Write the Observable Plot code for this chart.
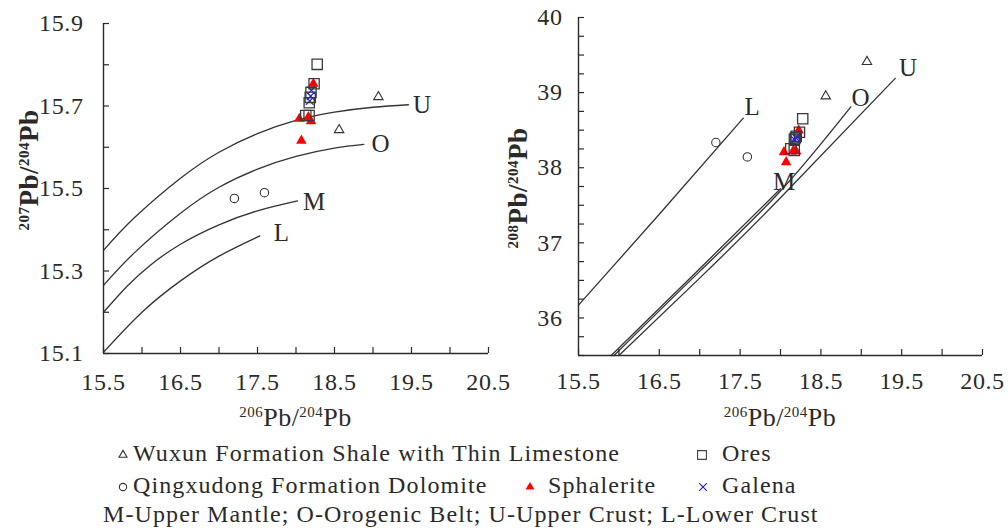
<!DOCTYPE html>
<html><head><meta charset="utf-8">
<script src="https://cdn.jsdelivr.net/npm/d3@7"></script>
<script src="https://cdn.jsdelivr.net/npm/@observablehq/plot@0.6"></script>
<style>
html,body{margin:0;padding:0;background:#fff;}
#wrap{position:relative;width:1008px;height:528px;overflow:hidden;background:#fff;font-family:"Liberation Serif","Times New Roman",Times,"DejaVu Serif",serif;}
#left,#right,#legend{position:absolute;}
#left{left:0;top:0;} #right{left:504px;top:0;} #legend{left:0;top:400px;}
svg text{font-family:"Liberation Serif","Times New Roman",Times,"DejaVu Serif",serif !important;}
</style></head><body>
<div id="wrap"><div id="left"></div><div id="right"></div><div id="legend"></div></div>
<script>
// ---------- axis ticks ----------
const xTicks = [15.5,16,16.5,17,17.5,18,18.5,19,19.5,20,20.5];
const xTickLabels = [15.5,16.5,17.5,18.5,19.5,20.5];
const y7Ticks = [15.1,15.2,15.3,15.4,15.5,15.6,15.7,15.8,15.9];
const y7TickLabels = [15.1,15.3,15.5,15.7,15.9];
const y8Ticks = [35.5,35.75,36,36.25,36.5,36.75,37,37.25,37.5,37.75,38,38.25,38.5,38.75,39,39.25,39.5,39.75,40];
const y8TickLabels = [36,37,38,39,40];

// ---------- evolution curves (206Pb/204Pb, 207Pb/204Pb) ----------
const curveU7 = [[15.5,15.350],[15.9,15.429],[16.5,15.525],[17.0,15.588],[17.5,15.633],[18.0,15.665],[18.5,15.685],[19.0,15.697],[19.46,15.703]];
const curveO7 = [[15.5,15.265],[15.9,15.344],[16.5,15.440],[17.0,15.503],[17.5,15.547],[18.0,15.578],[18.5,15.598],[18.88,15.607]];
const curveM7 = [[15.5,15.200],[15.8,15.262],[16.1,15.313],[16.5,15.365],[17.0,15.412],[17.5,15.446],[18.02,15.470]];
const curveL7 = [[15.5,15.103],[16.0,15.200],[16.5,15.276],[17.0,15.336],[17.53,15.385]];
// ---------- evolution curves (206Pb/204Pb, 208Pb/204Pb) ----------
const curveU8 = [[16.0,35.5],[17.0,36.53],[18.0,37.6],[19.42,39.19]];
const curveO8 = [[15.94,35.5],[17.0,36.62],[18.0,37.69],[18.87,38.81]];
const curveM8 = [[15.905,35.5],[17.0,36.655],[18.0,37.72]];
const curveL8 = [[15.5,36.17],[16.5,37.38],[17.54,38.66]];

// ---------- samples ----------
const shale206 = [19.07, 18.56];
const shale207 = [15.722, 15.642];
const shale208 = [39.41, 38.953];
const dolo206 = [17.20, 17.59];
const dolo207 = [15.476, 15.490];
const dolo208 = [38.336, 38.144];
const ore206 = [18.275, 18.235, 18.195, 18.185, 18.172, 18.127, 18.17];
const ore207 = [15.801, 15.754, 15.733, 15.721, 15.708, 15.677, 15.677];
const ore208 = [38.652, 38.473, 38.42, 38.40, 38.38, 38.252, 38.23];
const sph206 = [18.225, 18.043, 18.16, 18.195, 18.07];
const sph207 = [15.754, 15.669, 15.673, 15.663, 15.616];
const sph208 = [38.496, 38.207, 38.23, 38.215, 38.074];
const gal206 = [18.20, 18.19, 18.178];
const gal207 = [15.738, 15.724, 15.712];
const gal208 = [38.42, 38.40, 38.37];

// ---------- legend text ----------
const legendLabels = ["Wuxun Formation Shale with Thin Limestone", "Ores", "Qingxudong Formation Dolomite", "Sphalerite", "Galena"];
const legendNote = "M-Upper Mantle; O-Orogenic Belt; U-Upper Crust; L-Lower Crust";

const serif = '"Liberation Serif", "Times New Roman", Times, "DejaVu Serif", serif';
const INK = "#2a2a2a";
const W = 504, H = 400;
const pts = (xs, ys) => xs.map((x, i) => ({x, y: ys[i]}));
const curveRows = (list) => list.flatMap(([name, p]) => p.map(([x, y]) => ({name, x, y})));
const endOf = (name, p) => [{name, x: p[p.length-1][0], y: p[p.length-1][1]}];

function panel(cfg) {
  const fw = W - cfg.ml - cfg.mr, fh = H - cfg.mt - cfg.mb;
  const curves = [["U", cfg.U], ["O", cfg.O], ["M", cfg.M], ["L", cfg.L]];
  const marks = [
    Plot.line(curveRows(curves), {x: "x", y: "y", z: "name", curve: "natural", stroke: "#333", strokeWidth: 1.3}),
    Plot.ruleX([xTicks[0]], {stroke: INK, strokeWidth: 1.4}),
    Plot.ruleY([cfg.yTicks[0]], {stroke: INK, strokeWidth: 1.4}),
    Plot.tickY(cfg.yTicks, {y: d => d, insetRight: fw - 6, stroke: INK, strokeWidth: 1.2}),
    Plot.tickX(xTicks, {x: d => d, insetTop: fh - 6, stroke: INK, strokeWidth: 1.2}),
    Plot.axisX(xTickLabels, {tickSize: 0, tickPadding: cfg.xpad, tickFormat: d => d.toFixed(1), label: null, fill: INK}),
    Plot.axisY(cfg.yTickLabels, {tickSize: 0, tickPadding: cfg.ypad, tickFormat: cfg.yfmt, label: null, fill: INK}),
  ];
  for (const [name, p] of curves) {
    const o = cfg.lab[name];
    marks.push(Plot.text(endOf(name, p), {x: "x", y: "y", text: "name", dx: o[0], dy: o[1], fontSize: 25, fill: INK}));
  }
  marks.push(
    Plot.dot(pts(shale206, cfg.shale), {x: "x", y: "y", symbol: "triangle", r: 3.5, stroke: "#333", strokeWidth: 1.1, fill: "none"}),
    Plot.dot(pts(dolo206, cfg.dolo), {x: "x", y: "y", symbol: "circle", r: 4.2, stroke: "#333", strokeWidth: 1.1, fill: "none"}),
    Plot.dot(pts(sph206, cfg.sph), {x: "x", y: "y", symbol: "triangle", r: 3.9, fill: "#ff0000", stroke: "none"}),
    Plot.dot(pts(gal206, cfg.gal), {x: "x", y: "y", symbol: "times", r: 3.6, stroke: "#2020e0", strokeWidth: 1.2}),
    Plot.dot(pts(ore206, cfg.ore), {x: "x", y: "y", symbol: "square", r: 5.8, stroke: "#3a3a3a", strokeWidth: 1.3, fill: "none"})
  );
  const svg = Plot.plot({
    width: W, height: H,
    marginLeft: cfg.ml, marginRight: cfg.mr, marginTop: cfg.mt, marginBottom: cfg.mb,
    x: {domain: [xTicks[0], xTicks[xTicks.length-1]]},
    y: {domain: [cfg.yTicks[0], cfg.yTicks[cfg.yTicks.length-1]]},
    style: {fontFamily: serif, fontSize: "24px", letterSpacing: "0.6px", color: INK, background: "none", overflow: "visible"},
    marks
  });
  const s = d3.select(svg);
  const title = (tx, ty, rot, sup1, sup2, size, supSize, weight) => {
    const t = s.append("text")
      .attr("transform", `translate(${tx},${ty})` + (rot ? " rotate(-90)" : ""))
      .attr("text-anchor", "middle").attr("fill", INK)
      .style("font-size", size + "px").style("font-weight", weight).style("letter-spacing", "0.5px");
    t.append("tspan").style("font-size", supSize + "px").attr("dy", -9).text(sup1);
    t.append("tspan").attr("dy", 9).text("Pb/");
    t.append("tspan").style("font-size", supSize + "px").attr("dy", -9).text(sup2);
    t.append("tspan").attr("dy", 9).text("Pb");
  };
  title(cfg.ml + fw / 2, 426, false, "206", "204", 26, 15, "normal");
  title(cfg.ytx, cfg.yty, true, cfg.ysup, "204", 27, 15, "bold");
  return svg;
}

document.getElementById("left").append(panel({
  ml: 103, mr: 16, mt: 23, mb: 47, xpad: 19, ypad: 20,
  yTicks: y7Ticks, yTickLabels: y7TickLabels, yfmt: d => d.toFixed(1),
  U: curveU7, O: curveO7, M: curveM7, L: curveL7,
  lab: {U: [14, 0], O: [17, 0], M: [17, 1], L: [22, -3]},
  shale: shale207, dolo: dolo207, ore: ore207, sph: sph207, gal: gal207,
  ytx: 38, yty: 170, ysup: "207"
}));
document.getElementById("right").append(panel({
  ml: 74, mr: 26, mt: 17, mb: 45, xpad: 16, ypad: 16,
  yTicks: y8Ticks, yTickLabels: y8TickLabels, yfmt: d => String(d),
  U: curveU8, O: curveO8, M: curveM8, L: curveL8,
  lab: {U: [13, -10], O: [10, -9], M: [4, -7], L: [9, -11]},
  shale: shale208, dolo: dolo208, ore: ore208, sph: sph208, gal: gal208,
  ytx: 23, yty: 188, ysup: "208"
}));

// ---------- legend ----------
const lg = d3.select("#legend").append("svg").attr("width", 1008).attr("height", 128)
  .style("font-family", serif).style("font-size", "24px").style("letter-spacing", "1.1px");
const sym = (type, size) => d3.symbol().type(type).size(size)();
const items = [
  {cx: 123, cy: 53, shape: sym(d3.symbolTriangle, 28), fill: "none", stroke: "#333", tx: 133, label: legendLabels[0]},
  {cx: 702, cy: 53, shape: sym(d3.symbolSquare, 78), fill: "none", stroke: "#444", tx: 722, label: legendLabels[1]},
  {cx: 123, cy: 85, shape: sym(d3.symbolCircle, 42), fill: "none", stroke: "#333", tx: 133, label: legendLabels[2]},
  {cx: 530, cy: 85, shape: sym(d3.symbolTriangle, 34), fill: "#ff0000", stroke: "none", tx: 548, label: legendLabels[3]},
  {cx: 703, cy: 85, shape: sym(d3.symbolTimes, 40), fill: "none", stroke: "#2020e0", tx: 722, label: legendLabels[4]}
];
for (const it of items) {
  lg.append("path").attr("d", it.shape).attr("transform", `translate(${it.cx},${it.cy + 2})`)
    .attr("fill", it.fill).attr("stroke", it.stroke).attr("stroke-width", 1.1);
  lg.append("text").attr("x", it.tx).attr("y", it.cy + 8).attr("fill", INK).text(it.label);
}
lg.append("text").attr("x", 103).attr("y", 115 + 7).attr("fill", INK).text(legendNote);
</script>
</body></html>
